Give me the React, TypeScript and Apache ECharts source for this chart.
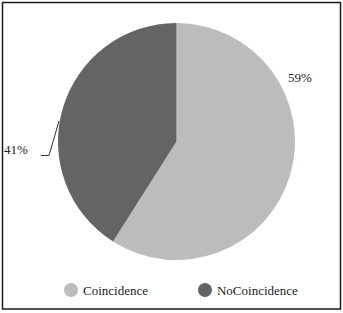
import React, { useEffect, useRef } from "react";
import * as echarts from "echarts";

const categories = ["Coincidence", "NoCoincidence"];
const values = [59, 41];
const colors = ["#bbbcbc", "#636466"];

export default function App() {
  const ref = useRef<HTMLDivElement>(null);
  useEffect(() => {
    const chart = echarts.init(ref.current!, null, { renderer: "svg" });
    const font = "Liberation Serif";
    chart.setOption({
      animation: false,
      backgroundColor: "#ffffff",
      legend: {
        bottom: 11,
        left: 59,
        itemWidth: 14,
        itemHeight: 14,
        itemGap: 50,
        icon: "circle",
        textStyle: { fontFamily: font, fontSize: 13, color: "#222" },
        data: categories,
      },
      graphic: [
        {
          type: "rect",
          shape: { x: 2.5, y: 2.5, width: 338, height: 306.5 },
          style: { fill: "none", stroke: "#1a1a1a", lineWidth: 1.5 },
          silent: true,
        },
      ],
      series: [
        {
          type: "pie",
          center: [176.5, 141.5],
          radius: 118.5,
          startAngle: 90,
          clockwise: true,
          avoidLabelOverlap: false,
          itemStyle: { borderWidth: 0 },
          label: {
            show: true,
            position: "outside",
            formatter: (p: any) => p.value + "%",
            fontFamily: font,
            fontSize: 13,
            color: "#222",
          },
          labelLine: { show: true, lineStyle: { color: "#333", width: 1 } },
          labelLayout: (p: any) => {
            if (p.dataIndex === 0) {
              return { x: 288, y: 77, align: "left", verticalAlign: "middle" };
            }
            return {
              x: 4,
              y: 149,
              align: "left",
              verticalAlign: "middle",
              labelLinePoints: [
                [59, 121],
                [49, 155.5],
                [41, 155.5],
              ],
            };
          },
          data: categories.map((c, i) => ({
            name: c,
            value: values[i],
            itemStyle: { color: colors[i] },
            labelLine: { show: i === 1 },
          })),
        },
      ],
    });
    return () => chart.dispose();
  }, []);
  return (
    <div
      ref={ref}
      style={{ position: "fixed", left: 0, top: 0, width: 343, height: 313 }}
    />
  );
}
